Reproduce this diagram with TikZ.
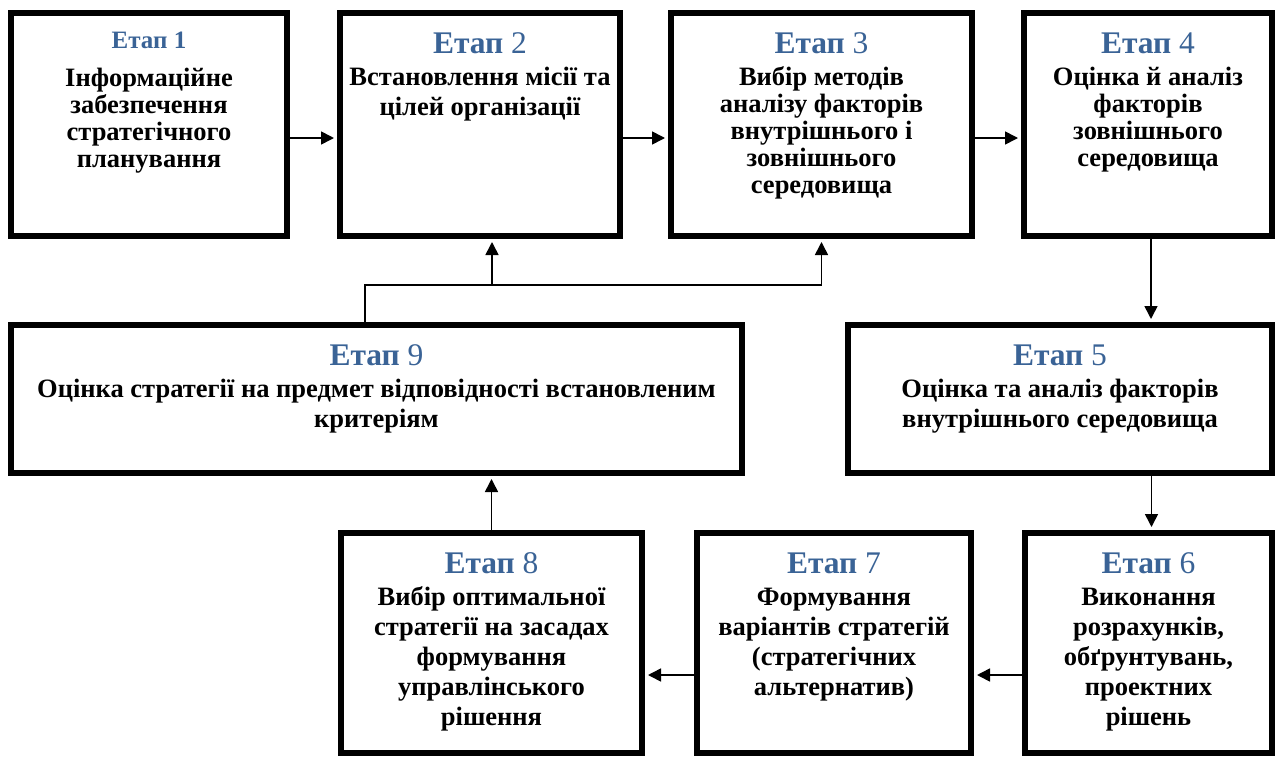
\documentclass[tikz,border=0pt]{standalone}
\usepackage{fontspec}
\setmainfont{Liberation Serif}
\usetikzlibrary{arrows.meta}

\definecolor{stageblue}{RGB}{58,99,150}
\newcommand{\headfont}{\fontsize{31.5}{33}\selectfont}
\newcommand{\bodyfont}{\fontsize{26.5}{30}\selectfont\bfseries}
\newcommand{\tightfont}{\fontsize{26.5}{27}\selectfont\bfseries}
\newcommand{\etap}[1]{{\headfont\textcolor{stageblue}{\textbf{Етап} \mdseries #1}\par}\vspace{\dimexpr32pt-\baselineskip\relax}}

\tikzset{
    stage/.style = {draw, line width=6pt, inner sep=0pt},
    link/.style = {line width=1.6pt},
    flow/.style = {link, -{Triangle[length=13pt,width=13pt]}, shorten >=3pt},
}

\begin{document}
\begin{tikzpicture}[x=1pt, y=-1pt]
    \useasboundingbox (0,0) rectangle (1278,758);

    % top row
    \node (s1) at (149,124.5) [stage] {\parbox[c][223pt][t]{276pt}{\tightfont\centering\vspace*{19pt}%
        {\fontsize{25}{27}\selectfont\textcolor{stageblue}{Етап 1}\par}\vspace{11pt}
        Інформаційне\\ забезпечення\\ стратегічного\\ планування}};
    \node (s2) at (480,124.5) [stage] {\parbox[c][223pt][t]{280pt}{\bodyfont\centering\vspace*{20pt}%
        \etap{2} Встановлення місії та\\ цілей організації}};
    \node (s3) at (821.5,124.5) [stage] {\parbox[c][223pt][t]{301pt}{\tightfont\centering\vspace*{20pt}%
        \etap{3} Вибір методів\\ аналізу факторів\\ внутрішнього і\\ зовнішнього\\ середовища}};
    \node (s4) at (1148,124.5) [stage] {\parbox[c][223pt][t]{248pt}{\tightfont\centering\vspace*{20pt}%
        \etap{4} Оцінка й аналіз\\ факторів\\ зовнішнього\\ середовища}};

    % middle row
    \node (s9) at (376.5,399) [stage] {\parbox[c][148pt][t]{731pt}{\bodyfont\centering\vspace*{20pt}%
        \etap{9} Оцінка стратегії на предмет відповідності встановленим\\ критеріям}};
    \node (s5) at (1060,399) [stage] {\parbox[c][148pt][t]{424pt}{\bodyfont\centering\vspace*{20pt}%
        \etap{5} Оцінка та аналіз факторів\\ внутрішнього середовища}};

    % bottom row
    \node (s8) at (491.5,643) [stage] {\parbox[c][220pt][t]{301pt}{\bodyfont\centering\vspace*{20pt}%
        \etap{8} Вибір оптимальної\\ стратегії на засадах\\ формування\\ управлінського\\ рішення}};
    \node (s7) at (834,643) [stage] {\parbox[c][220pt][t]{274pt}{\bodyfont\centering\vspace*{20pt}%
        \etap{7} Формування\\ варіантів стратегій\\ (стратегічних\\ альтернатив)}};
    \node (s6) at (1148.5,643) [stage] {\parbox[c][220pt][t]{247pt}{\bodyfont\centering\vspace*{20pt}%
        \etap{6} Виконання\\ розрахунків,\\ обґрунтувань,\\ проектних\\ рішень}};

    % arrows
    \draw [flow] ([yshift=-13.5pt]s1.east) -- ([yshift=-13.5pt]s2.west);
    \draw [flow] ([yshift=-13.5pt]s2.east) -- ([yshift=-13.5pt]s3.west);
    \draw [flow] ([yshift=-13.5pt]s3.east) -- ([yshift=-13.5pt]s4.west);
    \draw [flow] ([xshift=3pt]s4.south) -- ([xshift=3pt]s4.south |- s5.north);
    \draw [flow] ([xshift=3pt]s6.north |- s5.south) -- ([xshift=3pt]s6.north);
    \draw [flow] ([yshift=-32pt]s6.west) -- ([yshift=-32pt]s7.east);
    \draw [flow] ([yshift=-32pt]s7.west) -- ([yshift=-32pt]s8.east);
    \draw [flow] (s8.north) -- (s8.north |- s9.south);

    % feedback
    \coordinate (fb) at (365,285);
    \coordinate (fb2) at (492,285);
    \draw [link] (fb |- s9.north) -- (fb) -- (fb -| s3.south);
    \draw [flow] (fb -| s3.south) -- (s3.south);
    \draw [flow] (fb2) -- (fb2 |- s2.south);
\end{tikzpicture}
\end{document}
